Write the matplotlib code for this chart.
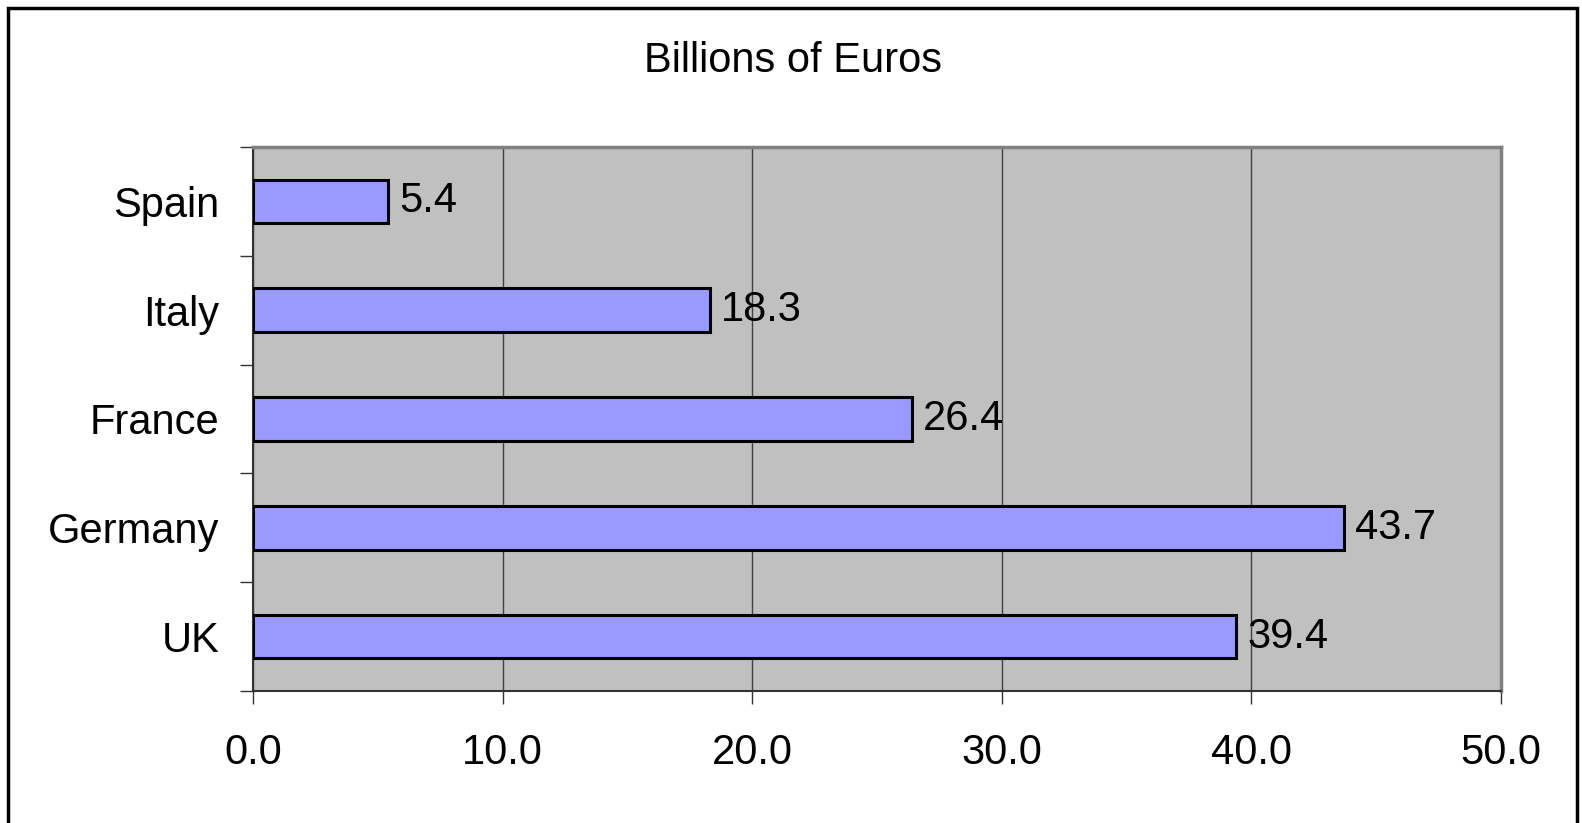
import matplotlib.pyplot as plt
from matplotlib.patches import Rectangle

# Chart data (bottom to top)
countries = ['UK', 'Germany', 'France', 'Italy', 'Spain']
values = [39.4, 43.7, 26.4, 18.3, 5.4]
x_ticks = [0, 10, 20, 30, 40, 50]

plt.rcParams['font.family'] = ['Liberation Sans', 'DejaVu Sans']

fig = plt.figure(figsize=(15.82, 8.23), dpi=100)
ax = fig.add_axes([253 / 1582, 132 / 823, 1248 / 1582, 544 / 823])
ax.set_facecolor('#C0C0C0')

pos = list(range(len(countries)))
bars = ax.barh(pos, values, height=0.4, color='#9999FF', edgecolor='black', linewidth=2.2, zorder=3)

# value labels next to bars
for y, v in zip(pos, values):
    ax.text(v + 0.45, y, f'{v:.1f}', va='center', ha='left', fontsize=30, zorder=4)

ax.set_xlim(0, 50)
ax.set_ylim(-0.5, len(countries) - 0.5)
ax.set_xticks(x_ticks)
ax.set_xticklabels([f'{t:.1f}' for t in x_ticks], fontsize=30)
ax.set_yticks(pos)
ax.set_yticklabels(countries, fontsize=30)
ax.set_yticks([p - 0.5 for p in pos] + [len(countries) - 0.5], minor=True)

ax.tick_params(axis='y', which='major', length=0, pad=24)
ax.tick_params(axis='y', which='minor', length=9.5, width=1, color='#333333', direction='out')
ax.tick_params(axis='x', which='major', length=9.5, width=1, color='#333333', direction='out', pad=21)

ax.grid(axis='x', color='#404040', linewidth=1, zorder=1)

ax.spines['top'].set_color('#808080')
ax.spines['right'].set_color('#808080')
ax.spines['top'].set_linewidth(2.5)
ax.spines['right'].set_linewidth(2.5)
ax.spines['left'].set_color('#333333')
ax.spines['bottom'].set_color('#333333')
ax.spines['left'].set_linewidth(1.5)
ax.spines['bottom'].set_linewidth(1.5)

fig.text(793 / 1582, 1 - 61 / 823, 'Billions of Euros', ha='center', va='center', fontsize=30)

# outer frame
fig.patches.append(Rectangle((8 / 1582, -0.05), 1569 / 1582, 1.05 - 8 / 823, transform=fig.transFigure,
                             fill=False, edgecolor='black', linewidth=2.5))

plt.savefig('out.png', dpi=100)
